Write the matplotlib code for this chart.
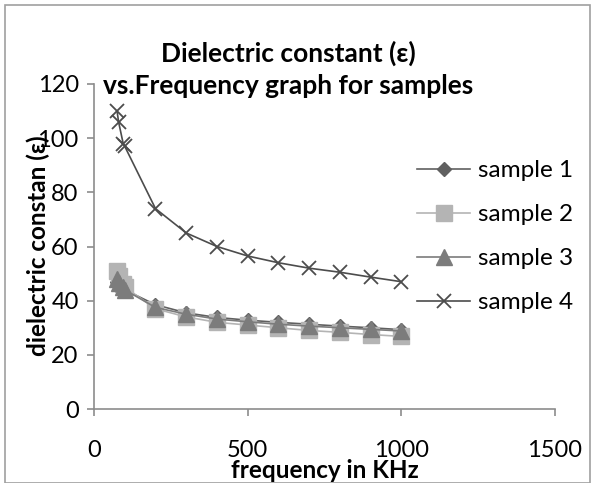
import numpy as np
import matplotlib.pyplot as plt
from matplotlib.patches import Rectangle

# frequency (KHz) and dielectric constant
freq = [75, 80, 95, 100, 200, 300, 400, 500, 600, 700, 800, 900, 1000]
sample1 = [47, 46, 45, 44, 38.5, 35.5, 33.8, 32.8, 32, 31.3, 30.6, 30, 29.3]
sample2 = [51, 49, 46, 45, 37, 34, 32, 31, 30, 29, 28.3, 27.5, 26.8]
sample3 = [48, 46.5, 45, 44, 37.5, 35, 33.2, 32.2, 31.3, 30.6, 30, 29.4, 28.8]
sample4 = [110, 106, 98, 97, 74, 65, 60, 56.5, 54, 52, 50.5, 48.7, 47]

series = [
    ("sample 1", sample1, "#606060", "D", 7),
    ("sample 2", sample2, "#b4b4b4", "s", 11),
    ("sample 3", sample3, "#7c7c7c", "^", 11),
    ("sample 4", sample4, "#4c4c4c", "x", 10),
]

plt.rcParams.update({
    "font.family": ["Lato", "DejaVu Sans"],
    "font.size": 17,
})

W, H = 595, 483
fig = plt.figure(figsize=(W / 100, H / 100), dpi=100)
# plot area in pixels: x 94..555, y 84..409 (from top)
ax = fig.add_axes([94 / W, 1 - 409 / H, (555 - 94) / W, (409 - 84) / H])

for name, vals, col, mk, ms in series:
    if mk == "x":
        ax.plot(freq, vals, color=col, lw=1.2, marker=mk, ms=ms, mew=1.3,
                label=name, clip_on=False)
    else:
        ax.plot(freq, vals, color=col, lw=1.2, marker=mk, ms=ms, mec=col,
                label=name, clip_on=False)

ax.set_xlim(0, 1500)
ax.set_ylim(0, 120)
ax.set_xticks([0, 500, 1000, 1500])
ax.set_yticks(range(0, 121, 20))
for s in ["top", "right"]:
    ax.spines[s].set_visible(False)
for s in ["left", "bottom"]:
    ax.spines[s].set_color("#8c8c8c")
    ax.spines[s].set_linewidth(1.2)
ax.tick_params(direction="out", length=5, width=1.2, color="#8c8c8c",
               labelsize=17)
ax.tick_params(axis="y", pad=6)
ax.tick_params(axis="x", pad=17)

fig.text(325 / W, 1 - 471 / H, "frequency in KHz", ha="center", va="center",
         fontsize=17.5, fontweight="bold")
fig.text(38 / W, 1 - 246 / H, "dielectric constan (ε)", ha="center",
         va="center", rotation=90, fontsize=17.5, fontweight="bold")

fig.text(288 / W, 1 - 62 / H, "Dielectric constant (ε)", ha="center",
         va="baseline", fontsize=19, fontweight="bold")
fig.text(288 / W, 1 - 94 / H, "vs.Frequency graph for samples", ha="center",
         va="baseline", fontsize=19, fontweight="bold")

fig.legend(*ax.get_legend_handles_labels(), loc="upper left",
           bbox_to_anchor=(417 / W, 1 - 160 / H), frameon=False,
           fontsize=17.5, handlelength=2.2, labelspacing=0.95,
           borderaxespad=0, borderpad=0, handletextpad=0.3)

fig.patches.append(Rectangle((5 / W, 0.0), 585 / W, 1 - 5 / H,
                             transform=fig.transFigure, fill=False,
                             edgecolor="#a0a0a0", lw=1.2))

fig.savefig("out.png", dpi=100)
